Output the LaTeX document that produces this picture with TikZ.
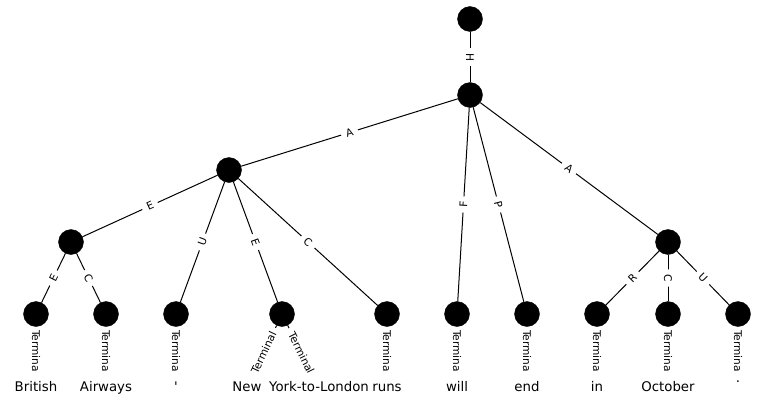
\documentclass[tikz,border=0pt]{standalone}
\usepackage{fontspec}
\setmainfont{DejaVu Sans}
\pgfdeclarelayer{edges}
\pgfsetlayers{edges,main}
\tikzset{
 dot/.style={circle,fill=black,draw=black,minimum size=25pt,inner sep=0pt},
 word/.style={anchor=base,inner sep=0pt,text height=10.1pt,text depth=2.8pt,font=\fontsize{13.3}{16}\selectfont},
 link/.style={draw=black,line width=1pt},
 elab/.style={sloped,fill=white,rounded corners=3pt,inner xsep=5pt,inner ysep=2pt,font=\fontsize{10.6}{12}\selectfont},
 tlink/.style={link,shorten >=8pt},
 tlab/.style={elab,pos=0.45},
 slab/.style={elab,pos=0.49},
}
\begin{document}
\begin{tikzpicture}[x=1pt,y=-1pt]
\useasboundingbox (0,0) rectangle (774,407);
% inner nodes
\node[dot] (r) at (470,19) {};
\node[dot] (h) at (470,95) {};
\node[dot] (a1) at (229,170) {};
\node[dot] (e1) at (71,242) {};
\node[dot] (a2) at (668,242) {};
% leaves
\node[dot] (l1) at (36,314) {};
\node[dot] (l2) at (106,314) {};
\node[dot] (l3) at (176,314) {};
\node[dot] (l4) at (282,314) {};
\node[dot] (l5) at (387,314) {};
\node[dot] (l6) at (457,314) {};
\node[dot] (l7) at (527,314) {};
\node[dot] (l8) at (597,314) {};
\node[dot] (l9) at (668,314) {};
\node[dot] (l10) at (738,314) {};
% words
\node[word] (w1) at (36,391.5) {British};
\node[word] (w2) at (106,391.5) {Airways};
\node[word] (w3) at (176,391.5) {\textquotesingle};
\node[word] (w4a) at (247,391.5) {New};
\node[word] (w4b) at (319,391.5) {York-to-London};
\node[word] (w5) at (387,391.5) {runs};
\node[word] (w6) at (457,391.5) {will};
\node[word] (w7) at (527,391.5) {end};
\node[word] (w8) at (597,391.5) {in};
\node[word] (w9) at (668,391.5) {October};
\node[word] (w10) at (738,391.5) {\raisebox{9pt}{.}};
\begin{pgfonlayer}{edges}
\draw[link] (r) -- node[elab] {H} (h);
\draw[link] (h) -- node[elab] {A} (a1);
\draw[link] (h) -- node[elab] {F} (l6);
\draw[link] (h) -- node[elab] {P} (l7);
\draw[link] (h) -- node[elab] {A} (a2);
\draw[link] (a1) -- node[elab] {E} (e1);
\draw[link] (a1) -- node[elab] {U} (l3);
\draw[link] (a1) -- node[elab] {E} (l4);
\draw[link] (a1) -- node[elab] {C} (l5);
\draw[link] (e1) -- node[elab] {E} (l1);
\draw[link] (e1) -- node[elab] {C} (l2);
\draw[link] (a2) -- node[elab] {R} (l8);
\draw[link] (a2) -- node[elab] {C} (l9);
\draw[link] (a2) -- node[elab] {U} (l10);
% terminal edges
\draw[tlink] (l1) -- node[tlab] {Termina} (w1);
\draw[tlink] (l2) -- node[tlab] {Termina} (w2);
\draw[tlink] (l3) -- node[tlab] {Termina} (w3);
\draw[tlink] (l4) -- node[slab] {Terminal} (w4a);
\draw[tlink] (l4) -- node[slab] {Terminal} (w4b);
\draw[tlink] (l5) -- node[tlab] {Termina} (w5);
\draw[tlink] (l6) -- node[tlab] {Termina} (w6);
\draw[tlink] (l7) -- node[tlab] {Termina} (w7);
\draw[tlink] (l8) -- node[tlab] {Termina} (w8);
\draw[tlink] (l9) -- node[tlab] {Termina} (w9);
\draw[tlink] (l10) -- node[tlab] {Termina} (w10);
\end{pgfonlayer}
\end{tikzpicture}
\end{document}
